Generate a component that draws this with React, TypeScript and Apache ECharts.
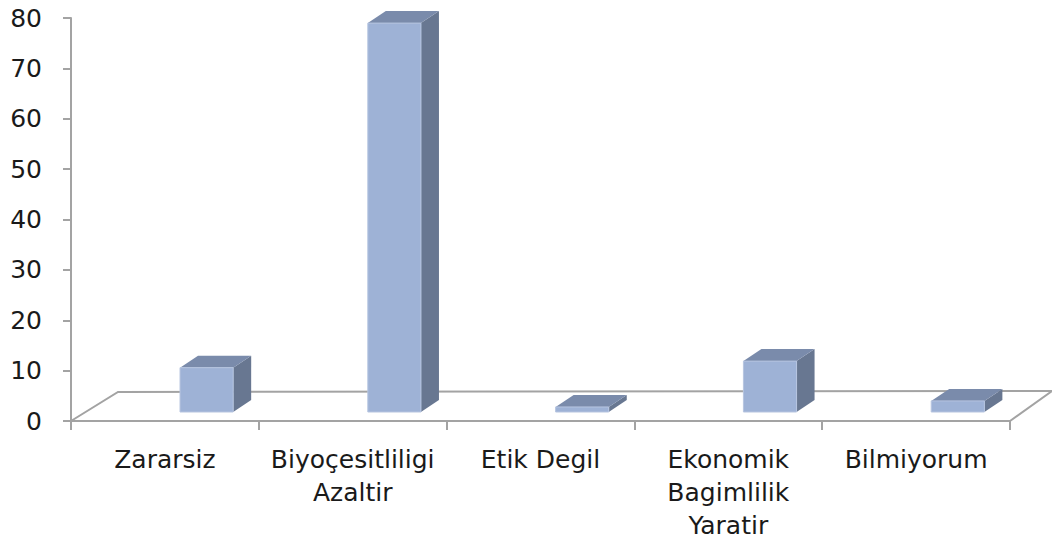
import React, { useEffect, useRef } from "react";
import * as echarts from "echarts";

const categories = [
  "Zararsiz",
  "Biyoçesitliligi\nAzaltir",
  "Etik Degil",
  "Ekonomik\nBagimlilik\nYaratir",
  "Bilmiyorum",
];
const values = [8.8, 77.2, 1.0, 10.1, 2.2];
const yMin = 0;
const yMax = 80;
const yInterval = 10;

const FRONT = "#9eb2d6";
const TOP = "#7a8bab";
const SIDE = "#687791";
const GRAY = "#a3a3a3";
const FONT = "DejaVu Sans";

export default function App() {
  const ref = useRef<HTMLDivElement>(null);
  useEffect(() => {
    if (!ref.current) return;
    const chart = echarts.init(ref.current, undefined, { renderer: "svg" });
    chart.setOption({
      animation: false,
      backgroundColor: "#ffffff",
      grid: { left: 71, right: 42, top: 18, bottom: 122, containLabel: false, outerBoundsMode: "none" },
      xAxis: {
        type: "category",
        data: categories,
        boundaryGap: true,
        axisLine: { show: true, lineStyle: { color: GRAY, width: 2 } },
        axisTick: { show: true, length: 9, lineStyle: { color: GRAY, width: 2 } },
        axisLabel: {
          interval: 0,
          margin: 22,
          fontFamily: FONT,
          fontSize: 25,
          lineHeight: 33,
          color: "#1a1a1a",
        },
      },
      yAxis: {
        type: "value",
        min: yMin,
        max: yMax,
        interval: yInterval,
        splitLine: { show: false },
        axisLine: { show: true, lineStyle: { color: GRAY, width: 2 } },
        axisTick: { show: true, length: 8, lineStyle: { color: GRAY, width: 2 } },
        axisLabel: { margin: 29, fontFamily: FONT, fontSize: 25, color: "#1a1a1a" },
      },
      series: [
        {
          type: "custom",
          clip: false,
          silent: true,
          data: [[0, 0]],
          renderItem: (params: any) => {
            const cs = params.coordSys;
            const x0 = cs.x;
            const x1 = cs.x + cs.width;
            const yb = cs.y + cs.height;
            return {
              type: "polyline",
              shape: {
                points: [
                  [x0, yb],
                  [x0 + 47, yb - 29],
                  [x1 + 42, yb - 30],
                  [x1, yb],
                ],
              },
              style: { stroke: GRAY, lineWidth: 2, fill: "none" },
            };
          },
        },
        {
          type: "custom",
          clip: false,
          encode: { x: 0, y: 1 },
          data: values.map((v, i) => [i, v]),
          renderItem: (params: any, api: any) => {
            const idx = api.value(0);
            const v = api.value(1);
            const base = api.coord([idx, 0]);
            const top = api.coord([idx, v]);
            const band = api.size([1, 0])[0];
            const cx = base[0] + band * 0.222;
            const w = band * 0.283;
            const dx = 18;
            const dy = 12;
            const by = base[1] - 9;
            const ty = top[1] - 9;
            const L = cx - w / 2;
            const R = cx + w / 2;
            return {
              type: "group",
              children: [
                {
                  type: "polygon",
                  shape: { points: [[R, ty], [R + dx, ty - dy], [R + dx, by - dy], [R, by]] },
                  style: { fill: SIDE },
                },
                {
                  type: "polygon",
                  shape: { points: [[L, ty], [R, ty], [R + dx, ty - dy], [L + dx, ty - dy]] },
                  style: { fill: TOP },
                },
                {
                  type: "rect",
                  shape: { x: L, y: ty, width: w, height: by - ty },
                  style: { fill: FRONT, stroke: "#b7c5e0", lineWidth: 1 },
                },
              ],
            };
          },
        },
      ],
    });
    return () => chart.dispose();
  }, []);
  return (
    <div
      ref={ref}
      style={{ position: "fixed", left: 0, top: 0, width: 1052, height: 543 }}
    />
  );
}
